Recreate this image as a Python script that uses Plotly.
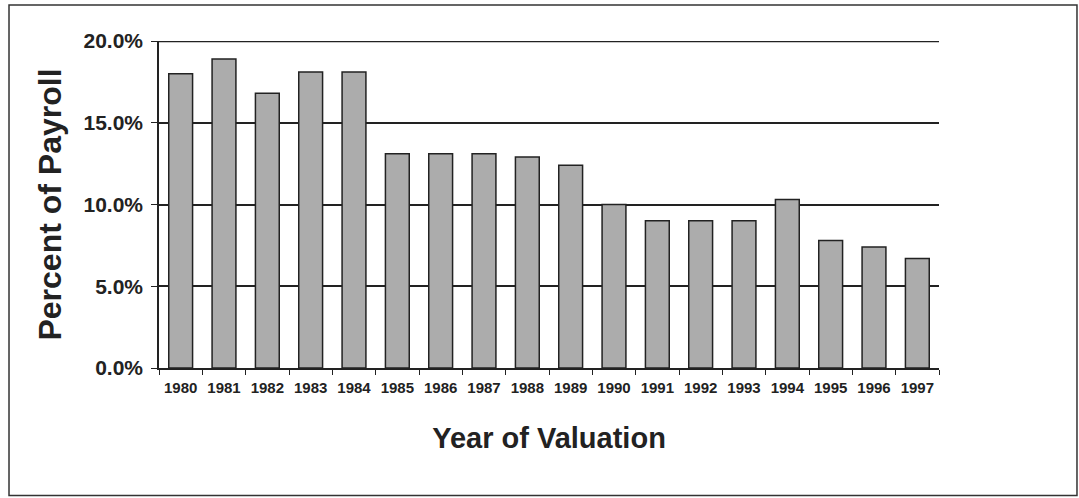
import plotly.graph_objects as go

years = [str(y) for y in range(1980, 1998)]
percent_of_payroll = [18.0, 18.9, 16.8, 18.1, 18.1, 13.1, 13.1, 13.1, 12.9, 12.4,
                      10.0, 9.0, 9.0, 9.0, 10.3, 7.8, 7.4, 6.7]
y_ticks = [0, 5, 10, 15, 20]
y_tick_labels = ["0.0%", "5.0%", "10.0%", "15.0%", "20.0%"]

FONT = "Liberation Sans, Arial, sans-serif"
INK = "#222222"

fig = go.Figure()
fig.add_trace(go.Bar(
    x=years, y=percent_of_payroll,
    marker=dict(color="#acacac", line=dict(color=INK, width=1.5)),
    showlegend=False,
))

fig.update_layout(
    width=1079, height=498,
    margin=dict(l=159, r=140, t=41, b=130),
    paper_bgcolor="white", plot_bgcolor="white",
    bargap=0.45,
    font=dict(family=FONT, color=INK),
    xaxis=dict(
        type="category",
        tickson="boundaries",
        ticks="outside", ticklen=5, tickwidth=1.3, tickcolor=INK,
        showline=True, linecolor=INK, linewidth=1.5,
        showgrid=False,
        tickfont=dict(family=FONT, size=15, color=INK, weight="bold"),
        ticklabelstandoff=5,
        title=dict(text="<b>Year of Valuation</b>", font=dict(family=FONT, size=29, color=INK), standoff=33),
        automargin=False,
    ),
    yaxis=dict(
        range=[0, 20],
        tickvals=y_ticks, ticktext=y_tick_labels,
        ticks="outside", ticklen=6, tickwidth=1.3, tickcolor=INK,
        showline=True, linecolor=INK, linewidth=1.5,
        showgrid=True, gridcolor=INK, gridwidth=1.5,
        zeroline=False,
        tickfont=dict(family=FONT, size=21, color=INK, weight="bold"),
        ticklabelstandoff=4,
        title=dict(text="<b>Percent of Payroll</b>", font=dict(family=FONT, size=32, color=INK), standoff=12),
        automargin=False,
    ),
    shapes=[
        dict(
            type="rect", xref="paper", yref="paper",
            x0=-0.1923, x1=1.1769, y0=-0.3896, y1=1.110,
            line=dict(color="#333333", width=1.5), fillcolor="rgba(0,0,0,0)", layer="below",
        ),
        dict(
            type="line", xref="paper", yref="y",
            x0=0, x1=1, y0=y_ticks[-1], y1=y_ticks[-1],
            line=dict(color=INK, width=2.5), layer="above",
        ),
    ],
)

fig.write_html("out.html")
